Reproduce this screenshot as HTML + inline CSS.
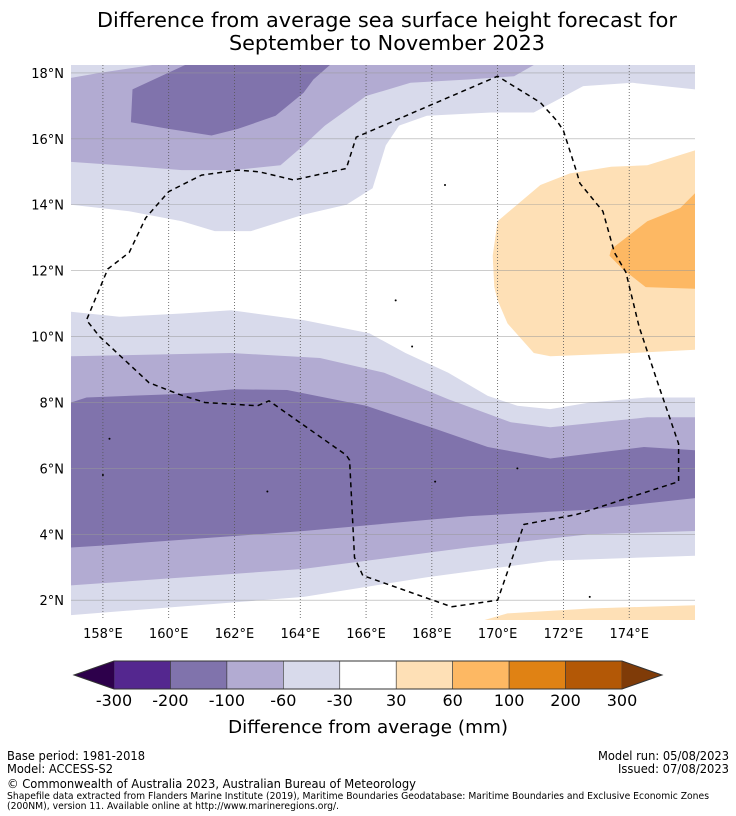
<!DOCTYPE html>
<html><head><meta charset="utf-8"><style>
html,body{margin:0;padding:0;background:#fff;}
svg{display:block;font-family:"DejaVu Sans","Liberation Sans",sans-serif;}
</style></head><body>
<svg id="c" width="736" height="816" viewBox="0 0 736 816"></svg>
<script>
// ---- data ----
const lonTicks=[158,160,162,164,166,168,170,172,174];
const latTicks=[2,4,6,8,10,12,14,16,18];
const levels=[-300,-200,-100,-60,-30,30,60,100,200,300];
const levelColors=["#54278f","#8073ac","#b2abd2","#d8daeb","#ffffff","#fee0b6","#fdb863","#e08214","#b35806"];
const extLow="#2d004b", extHigh="#7f3b08";
// contour regions [lon,lat]
const topLight=[[157.03,18.24],[176,18.24],[176,17.5],[174.1,17.7],[172.6,17.6],[171.1,16.8],[169.8,16.8],[167.85,16.7],[167.0,16.4],[166.6,15.8],[166.2,14.5],[165.4,14.0],[164.1,13.7],[162.5,13.2],[161.4,13.2],[160.4,13.5],[158.8,13.8],[157.03,14.0]];
const topMid=[[157.03,17.85],[157.9,18.0],[159.5,18.24],[171.1,18.24],[170.5,17.9],[169.1,17.8],[167.35,17.7],[166,17.3],[164.75,16.4],[164.1,15.8],[163.4,15.2],[162,15.05],[160.4,15.05],[158.5,15.2],[157.03,15.3]];
const topDark=[[158.9,17.5],[160.5,18.24],[164.9,18.24],[164.4,17.8],[164.1,17.4],[163.25,16.7],[162.1,16.3],[161.3,16.1],[160,16.3],[158.85,16.5]];
const orangeLight=[[176,15.65],[174.55,15.2],[173.45,15.15],[172.2,14.95],[171.3,14.6],[170.0,13.5],[169.85,12.45],[169.9,11.5],[170,11.1],[170.3,10.4],[171.1,9.5],[171.6,9.4],[174.1,9.5],[176,9.6]];
const orangeMid=[[176,14.35],[175.55,13.9],[174.55,13.5],[173.45,12.65],[173.4,12.45],[173.8,12.05],[174.5,11.5],[176,11.45]];
const bandLightTop=[[157.03,10.75],[158.5,10.6],[160.4,10.7],[161.9,10.8],[164.1,10.5],[166.1,10.1],[167.2,9.5],[168.5,8.9],[169.7,8.2],[170.6,7.9],[171.6,7.8],[172.8,8.0],[174.55,8.15],[176,8.15]];
const bandLightBot=[[176,3.35],[171.6,3.2],[167.85,2.7],[164.1,2.1],[157.03,1.55]];
const bandMidTop=[[157.03,9.4],[161.9,9.5],[164.6,9.35],[166.55,8.9],[168.5,8.1],[170.4,7.4],[171.6,7.25],[173.1,7.4],[174.55,7.55],[176,7.55]];
const bandMidBot=[[176,4.1],[172.8,4.0],[169.1,3.6],[164.1,2.95],[157.03,2.45]];
const bandDarkTop=[[157.03,8.0],[157.5,8.15],[160.1,8.25],[162,8.4],[163.6,8.38],[166,7.9],[168.1,7.2],[169.7,6.65],[171.6,6.3],[172.8,6.45],[174.45,6.65],[176,6.55]];
const bandDarkBot=[[176,5.1],[172.8,4.75],[169.1,4.55],[164.1,4.1],[157.9,3.65],[157.03,3.6]];
const orangeBottom=[[169.6,1.4],[170.3,1.6],[172.8,1.75],[176,1.85],[176,1.4]];
const eez=[[168.6,1.8],[170.0,2.0],[170.8,4.3],[172.4,4.6],[175.5,5.6],[175.5,6.75],[174.9,8.5],[174.3,10.3],[173.9,11.95],[173.55,12.55],[173.2,13.8],[172.5,14.65],[172.4,15.0],[172.0,16.25],[171.8,16.55],[171.3,17.1],[170.0,17.9],[165.7,16.05],[165.4,15.1],[163.8,14.75],[162.75,15.0],[162.1,15.05],[161.0,14.9],[160.0,14.4],[159.3,13.6],[158.8,12.55],[158.15,12.05],[157.5,10.5],[157.9,10.0],[159.4,8.6],[160.3,8.25],[161.1,8.0],[162.7,7.9],[163.05,8.05],[165.4,6.4],[165.5,6.25],[165.65,3.3],[165.9,2.75],[168.6,1.8]];
const islands=[[158.2,6.9],[163.0,5.3],[168.1,5.6],[170.6,6.0],[166.9,11.1],[172.8,2.1],[158.0,5.8],[167.4,9.7],[168.4,14.6]];

// ---- axes ----
const L0=157.03,L1=176.0,B0=1.4,B1=18.24;
const X0=71,X1=695,Y0=65,Y1=620;
const x=lon=>X0+(lon-L0)/(L1-L0)*(X1-X0);
const y=lat=>Y0+(B1-lat)/(B1-B0)*(Y1-Y0);
const NS="http://www.w3.org/2000/svg";
const svg=document.getElementById('c');
function mk(t,a,p){const e=document.createElementNS(NS,t);for(const k in a)e.setAttribute(k,a[k]);(p||svg).appendChild(e);return e;}
const pts=arr=>arr.map(p=>x(p[0]).toFixed(1)+','+y(p[1]).toFixed(1)).join(' ');

let e;
e=mk('text',{x:387,y:27,'text-anchor':'middle','font-size':20,textLength:580,lengthAdjust:'spacingAndGlyphs'});e.textContent='Difference from average sea surface height forecast for';


e=mk('text',{x:387,y:50,'text-anchor':'middle','font-size':20,textLength:316,lengthAdjust:'spacingAndGlyphs'});e.textContent='September to November 2023';



const defs=mk('defs',{});
const cp=mk('clipPath',{id:'mc'},defs);mk('rect',{x:X0,y:Y0,width:X1-X0,height:Y1-Y0},cp);
const map=mk('g',{'clip-path':'url(#mc)'});


mk('rect',{x:X0,y:Y0,width:X1-X0,height:Y1-Y0,fill:'#fff'},map);
function region(arr,col,name){const p=mk('polygon',{points:pts(arr),fill:col},map);}
region(topLight,levelColors[3],'contour-top-light');
region(topMid,levelColors[2],'contour-top-mid');
region(topDark,levelColors[1],'contour-top-dark');
region(orangeLight,levelColors[5],'contour-orange-light');
region(orangeMid,levelColors[6],'contour-orange-mid');
region(bandLightTop.concat(bandLightBot),levelColors[3],'contour-band-light');
region(bandMidTop.concat(bandMidBot),levelColors[2],'contour-band-mid');
region(bandDarkTop.concat(bandDarkBot),levelColors[1],'contour-band-dark');
region(orangeBottom,levelColors[5],'contour-orange-bottom');
// grid
lonTicks.forEach(l=>{const g=mk('line',{x1:x(l),x2:x(l),y1:Y0,y2:Y1,stroke:'#555','stroke-width':0.8,'stroke-dasharray':'1,2'},map);});
latTicks.forEach(l=>{const g=mk('line',{x1:X0,x2:X1,y1:y(l),y2:y(l),stroke:'#999','stroke-width':0.6,'stroke-opacity':0.8},map);});
islands.forEach(p=>{const c=mk('circle',{cx:x(p[0]),cy:y(p[1]),r:1,fill:'#000'},map);});
e=mk('polyline',{points:pts(eez),fill:'none',stroke:'#000','stroke-width':1.5,'stroke-dasharray':'5,4'},map);



lonTicks.forEach(l=>{const t=mk('text',{x:x(l),y:638,'text-anchor':'middle','font-size':13});t.textContent=l+'°E';});
latTicks.forEach(l=>{const t=mk('text',{x:64,y:y(l)+5,'text-anchor':'end','font-size':13});t.textContent=l+'°N';});

// colorbar
const CB0=114,CB1=622,CT=661,CBt=689;
const cw=(CB1-CB0)/levelColors.length;
const cb=mk('g',{});


levelColors.forEach((c,i)=>{const r=mk('rect',{x:CB0+i*cw,y:CT,width:cw,height:CBt-CT,fill:c,stroke:'#333','stroke-width':0.6},cb);});
e=mk('polygon',{points:`${CB0},${CT} ${CB0},${CBt} 74,${(CT+CBt)/2}`,fill:extLow},cb);


e=mk('polygon',{points:`${CB1},${CT} ${CB1},${CBt} 662,${(CT+CBt)/2}`,fill:extHigh},cb);


mk('polygon',{points:`74,${(CT+CBt)/2} ${CB0},${CT} ${CB1},${CT} 662,${(CT+CBt)/2} ${CB1},${CBt} ${CB0},${CBt}`,fill:'none',stroke:'#333','stroke-width':1},cb);
levels.forEach((v,i)=>{const t=mk('text',{x:CB0+i*cw,y:706,'text-anchor':'middle','font-size':16},cb);t.textContent=v;});
e=mk('text',{x:368,y:733,'text-anchor':'middle','font-size':18,textLength:280,lengthAdjust:'spacingAndGlyphs'});e.textContent='Difference from average (mm)';



function ft(txt,xx,yy,fs,anc,name,tl){const t=mk('text',{x:xx,y:yy,'font-size':fs,'text-anchor':anc||'start'});if(tl){t.setAttribute('textLength',tl);t.setAttribute('lengthAdjust','spacingAndGlyphs');}t.textContent=txt;}
ft('Base period: 1981-2018',7,760,12,'start','base-period',138);
ft('Model: ACCESS-S2',7,773,12,'start','model-name',106);
ft('Model run: 05/08/2023',729,760,12,'end','model-run',131);
ft('Issued: 07/08/2023',729,773,12,'end','issued-date',111);
ft('© Commonwealth of Australia 2023, Australian Bureau of Meteorology',7,788,12,'start','copyright',409);
ft('Shapefile data extracted from Flanders Marine Institute (2019), Maritime Boundaries Geodatabase: Maritime Boundaries and Exclusive Economic Zones',7,799,9.5,'start','source-note-1',702);
ft('(200NM), version 11. Available online at http://www.marineregions.org/.',7,809,9.5,'start','source-note-2',332);
</script>
</body></html>
